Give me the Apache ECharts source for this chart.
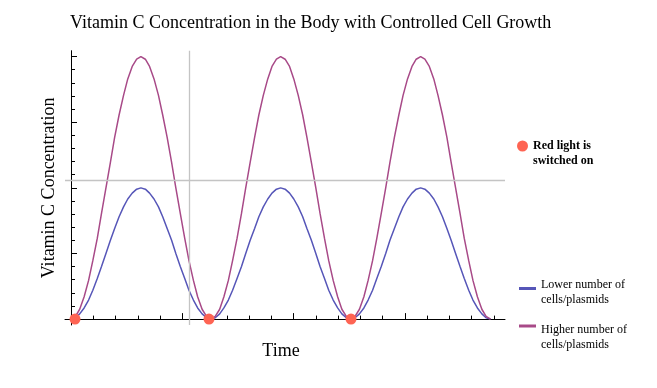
<!DOCTYPE html>
<html>
<head>
<meta charset="utf-8">
<script src="https://cdn.jsdelivr.net/npm/echarts@6/dist/echarts.min.js"></script>
<style>
  html, body { margin: 0; padding: 0; background: #fff; }
  #chart { width: 657px; height: 388px; }
</style>
</head>
<body>
<div id="chart"></div>
<script>
// ---- data ----
const times = [0, 0.20, 0.39, 0.59, 0.79, 0.98, 1.18, 1.37, 1.57, 1.77, 1.96, 2.16, 2.36, 2.55, 2.75, 2.95,
  3.14, 3.34, 3.53, 3.73, 3.93, 4.12, 4.32, 4.52, 4.71, 4.91, 5.11, 5.30, 5.50, 5.69, 5.89, 6.09,
  6.28, 6.48, 6.68, 6.87, 7.07, 7.26, 7.46, 7.66, 7.85, 8.05, 8.25, 8.44, 8.64, 8.84, 9.03, 9.23,
  9.42, 9.62, 9.82, 10.01, 10.21, 10.41, 10.60, 10.80, 11.00, 11.19, 11.39, 11.58, 11.78, 11.98, 12.17, 12.37,
  12.57, 12.76, 12.96, 13.16, 13.35, 13.55, 13.74, 13.94, 14.14, 14.33, 14.53, 14.73, 14.92, 15.12, 15.32, 15.51,
  15.71, 15.90, 16.10, 16.30, 16.49, 16.69, 16.89, 17.08, 17.28, 17.48, 17.67, 17.87, 18.06, 18.26, 18.46, 18.65,
  18.85];
const lowerValues = [
  0, 0.02, 0.08, 0.17, 0.29, 0.44, 0.62, 0.80, 1, 1.20, 1.38, 1.56, 1.71, 1.83, 1.92, 1.98,
  2, 1.98, 1.92, 1.83, 1.71, 1.56, 1.38, 1.20, 1, 0.80, 0.62, 0.44, 0.29, 0.17, 0.08, 0.02,
  0, 0.02, 0.08, 0.17, 0.29, 0.44, 0.62, 0.80, 1, 1.20, 1.38, 1.56, 1.71, 1.83, 1.92, 1.98,
  2, 1.98, 1.92, 1.83, 1.71, 1.56, 1.38, 1.20, 1, 0.80, 0.62, 0.44, 0.29, 0.17, 0.08, 0.02,
  0, 0.02, 0.08, 0.17, 0.29, 0.44, 0.62, 0.80, 1, 1.20, 1.38, 1.56, 1.71, 1.83, 1.92, 1.98,
  2, 1.98, 1.92, 1.83, 1.71, 1.56, 1.38, 1.20, 1, 0.80, 0.62, 0.44, 0.29, 0.17, 0.08, 0.02,
  0];
const higherValues = [
  0, 0.04, 0.15, 0.34, 0.59, 0.89, 1.23, 1.61, 2, 2.39, 2.77, 3.11, 3.41, 3.66, 3.85, 3.96,
  4, 3.96, 3.85, 3.66, 3.41, 3.11, 2.77, 2.39, 2, 1.61, 1.23, 0.89, 0.59, 0.34, 0.15, 0.04,
  0, 0.04, 0.15, 0.34, 0.59, 0.89, 1.23, 1.61, 2, 2.39, 2.77, 3.11, 3.41, 3.66, 3.85, 3.96,
  4, 3.96, 3.85, 3.66, 3.41, 3.11, 2.77, 2.39, 2, 1.61, 1.23, 0.89, 0.59, 0.34, 0.15, 0.04,
  0, 0.04, 0.15, 0.34, 0.59, 0.89, 1.23, 1.61, 2, 2.39, 2.77, 3.11, 3.41, 3.66, 3.85, 3.96,
  4, 3.96, 3.85, 3.66, 3.41, 3.11, 2.77, 2.39, 2, 1.61, 1.23, 0.89, 0.59, 0.34, 0.15, 0.04,
  0];
const dotTimes = [0.18, 6.2, 12.58];
const dotValues = [0, 0, 0];
const xMajorTicks = [5, 10, 15];
const xMinorTicks = [1, 2, 3, 4, 6, 7, 8, 9, 11, 12, 13, 14, 16, 17, 18, 19];
const yMajorTicks = [1, 2, 3, 4];
const yMinorTicks = [0.2, 0.4, 0.6, 0.8, 1.2, 1.4, 1.6, 1.8, 2.2, 2.4, 2.6, 2.8, 3.2, 3.4, 3.6, 3.8];
const guideTime = 5.3;
const guideValue = 2.12;

const titleText = 'Vitamin C Concentration in the Body with Controlled Cell Growth';
const xName = 'Time';
const yName = 'Vitamin C Concentration';
const dotName = 'Red light is\nswitched on';
const lowerName = 'Lower number of\ncells/plasmids';
const higherName = 'Higher number of\ncells/plasmids';

// ---- chart ----
const FONT = 'Liberation Serif';
const X_MIN = -0.27, X_MAX = 19.5, Y_MIN = -0.09, Y_MAX = 4.09;
const blue = '#5656b8';
const magenta = '#a84a88';
const red = '#fe6453';

const chart = echarts.init(document.getElementById('chart'), null, { renderer: 'canvas' });

function xAxisDef(ticks, len, withLine, withName) {
  return {
    type: 'value', gridIndex: 0, position: 'bottom', min: X_MIN, max: X_MAX,
    axisLine: { show: true, onZero: true, onZeroAxisIndex: 0,
      lineStyle: { color: '#000', width: 1, opacity: withLine ? 1 : 0 } },
    axisTick: { show: true, inside: true, length: len, customValues: ticks,
      lineStyle: { color: '#000', width: 1 } },
    axisLabel: { show: false },
    splitLine: { show: false },
    name: withName ? xName : '',
    nameLocation: 'middle', nameGap: 17,
    nameTextStyle: { fontFamily: FONT, fontSize: 18, color: '#000', padding: [0, 8, 0, 0] }
  };
}
function yAxisDef(ticks, len, withLine, withName) {
  return {
    type: 'value', gridIndex: 0, position: 'left', min: Y_MIN, max: Y_MAX,
    axisLine: { show: true, onZero: true, onZeroAxisIndex: 0,
      lineStyle: { color: '#000', width: 1, opacity: withLine ? 1 : 0 } },
    axisTick: { show: true, inside: true, length: len, customValues: ticks,
      lineStyle: { color: '#000', width: 1 } },
    axisLabel: { show: false },
    splitLine: { show: false },
    name: withName ? yName : '',
    nameLocation: 'middle', nameGap: 7,
    nameTextStyle: { fontFamily: FONT, fontSize: 18, color: '#000' }
  };
}

function legendDef(name, left, top, icon, w, h, padLine, bold) {
  return {
    data: [name], left: left, top: top, padding: 0, orient: 'vertical',
    icon: icon, itemWidth: w, itemHeight: h, itemGap: 0, selectedMode: false,
    formatter: n => '{pad| }\n' + n.split('\n').map(s => '{t|' + s + '}').join('\n'),
    textStyle: {
      color: '#000',
      rich: {
        pad: { fontSize: 1, lineHeight: padLine },
        t: { fontFamily: FONT, fontSize: 12, lineHeight: 15, fontWeight: bold ? 'bold' : 'normal', color: '#000' }
      }
    }
  };
}

const option = {
  animation: false,
  backgroundColor: '#fff',
  title: {
    text: titleText, left: 65, top: 9,
    textStyle: { fontFamily: FONT, fontSize: 18, fontWeight: 'normal', color: '#000' }
  },
  grid: { left: 65, right: 152, top: 50.7, bottom: 63, containLabel: false },
  xAxis: [xAxisDef(xMajorTicks, 6, true, true), xAxisDef(xMinorTicks, 3.5, false, false)],
  yAxis: [yAxisDef(yMajorTicks, 6, true, true), yAxisDef(yMinorTicks, 4, false, false)],
  legend: [
    legendDef(dotName, 517, 130.5, 'circle', 11, 11, 15, true),
    legendDef(lowerName, 519, 273, 'rect', 17, 3, 8, false),
    legendDef(higherName, 519, 310.5, 'rect', 17, 3, 23, false)
  ],
  series: [
    {
      name: 'guides', type: 'line', data: [], silent: true,
      markLine: {
        silent: true, symbol: 'none', animation: false,
        label: { show: false },
        lineStyle: { color: '#c4c4c4', width: 1.3, type: 'solid' },
        emphasis: { disabled: true },
        data: [{ xAxis: guideTime }, { yAxis: guideValue }]
      }
    },
    {
      name: lowerName, type: 'line', smooth: false, showSymbol: false,
      data: times.map((t, i) => [t, lowerValues[i]]),
      lineStyle: { color: blue, width: 1.5 }, itemStyle: { color: blue }
    },
    {
      name: higherName, type: 'line', smooth: false, showSymbol: false,
      data: times.map((t, i) => [t, higherValues[i]]),
      lineStyle: { color: magenta, width: 1.5 }, itemStyle: { color: magenta }
    },
    {
      name: dotName, type: 'scatter', symbol: 'circle', symbolSize: 11, z: 5,
      data: dotTimes.map((t, i) => [t, dotValues[i]]),
      itemStyle: { color: red, opacity: 1 }
    }
  ]
};
chart.setOption(option);
</script>
</body>
</html>
